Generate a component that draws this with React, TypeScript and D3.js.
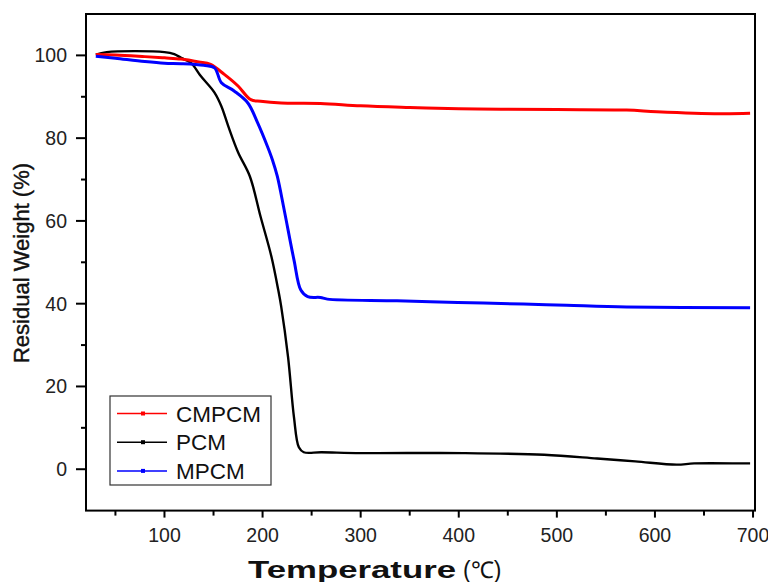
import React from "react";
import * as d3 from "d3";

const CMPCM_T = [30, 50, 80, 100, 117, 135, 147, 161, 175, 188, 198, 219, 259, 300, 350, 400, 443, 500, 571, 602, 666, 697];
const CMPCM_W = [100.2, 100.1, 99.7, 99.4, 99.1, 98.4, 97.8, 95.4, 92.6, 89.3, 88.9, 88.5, 88.4, 87.8, 87.4, 87.1, 87.0, 86.9, 86.8, 86.4, 85.9, 86.0];

const PCM_T = [30, 41, 100, 110, 117, 127, 137, 151, 158, 165, 175, 187, 198, 209, 216, 219, 226, 232, 237, 242, 260, 300, 405, 487, 541, 580, 622, 640, 690, 697];
const PCM_W = [100.2, 100.8, 100.8, 100.3, 99.4, 98.2, 95.0, 91.0, 87.7, 82.9, 76.6, 70.8, 61.0, 51.4, 43.3, 39.3, 27.1, 12.6, 5.3, 4.1, 4.1, 3.9, 3.9, 3.5, 2.6, 1.9, 1.1, 1.4, 1.4, 1.4];

const MPCM_T = [30, 50, 80, 100, 117, 140, 151, 158, 171, 185, 195, 205, 210, 215, 222, 232, 239, 246, 259, 266, 337, 399, 466, 510, 571, 697];
const MPCM_W = [99.8, 99.3, 98.5, 98.1, 98.0, 97.6, 97.0, 93.4, 91.4, 88.5, 83.7, 78.0, 74.8, 70.8, 62.7, 50.6, 43.3, 41.7, 41.5, 41.1, 40.7, 40.3, 39.9, 39.6, 39.2, 39.0];

const X_TICKS = [100, 200, 300, 400, 500, 600, 700];
const X_MINOR = [50, 150, 250, 350, 450, 550, 650];
const Y_TICKS = [0, 20, 40, 60, 80, 100];
const Y_MINOR = [10, 30, 50, 70, 90];

const SERIES = [
  { name: "PCM", t: PCM_T, w: PCM_W, color: "#000000", width: 2.4 },
  { name: "CMPCM", t: CMPCM_T, w: CMPCM_W, color: "#ff0000", width: 3 },
  { name: "MPCM", t: MPCM_T, w: MPCM_W, color: "#0000ff", width: 3 },
];
const LEGEND = ["CMPCM", "PCM", "MPCM"];
const LEGEND_COLORS = ["#ff0000", "#000000", "#0000ff"];

export default function App() {
  const W = 768, H = 582;
  const left = 86, right = 755, top = 14, bottom = 510.6;
  const x = d3.scaleLinear().domain([20, 702]).range([left, right]);
  const y = d3.scaleLinear().domain([-10, 110]).range([bottom, top]);
  const font = "'Liberation Sans', Arial, sans-serif";

  const line = d3.line<[number, number]>().x((d) => x(d[0])).y((d) => y(d[1])).curve(d3.curveCatmullRom.alpha(0.5));

  return (
    <svg width={W} height={H} style={{ position: "absolute", left: 0, top: 0, background: "#fff" }} fontFamily={font}>
      <rect x={0} y={0} width={W} height={H} fill="#fff" />
      <defs>
        <clipPath id="plot">
          <rect x={left} y={top} width={right - left} height={bottom - top} />
        </clipPath>
      </defs>
      <g clipPath="url(#plot)">
        {SERIES.map((s) => (
          <path
            key={s.name}
            d={line(s.t.map((t, i) => [t, s.w[i]] as [number, number])) || ""}
            fill="none"
            stroke={s.color}
            strokeWidth={s.width}
            strokeLinejoin="round"
          />
        ))}
      </g>
      <rect x={left} y={top} width={right - left} height={bottom - top} fill="none" stroke="#000" strokeWidth={2} />
      {X_TICKS.map((t) => (
        <g key={"xt" + t}>
          <line x1={x(t)} x2={x(t)} y1={bottom} y2={bottom + 7} stroke="#000" strokeWidth={2} />
          <text x={x(t)} y={542} textAnchor="middle" fontSize={19.5} fill="#222">{t}</text>
        </g>
      ))}
      {X_MINOR.map((t) => (
        <line key={"xm" + t} x1={x(t)} x2={x(t)} y1={bottom} y2={bottom + 5} stroke="#000" strokeWidth={2} />
      ))}
      {Y_TICKS.map((t) => (
        <g key={"yt" + t}>
          <line x1={left - 10} x2={left} y1={y(t)} y2={y(t)} stroke="#000" strokeWidth={2} />
          <text x={67} y={y(t) + 7} textAnchor="end" fontSize={19.5} fill="#222">{t}</text>
        </g>
      ))}
      {Y_MINOR.map((t) => (
        <line key={"ym" + t} x1={left - 5} x2={left} y1={y(t)} y2={y(t)} stroke="#000" strokeWidth={2} />
      ))}
      <text transform={`translate(29,263) rotate(-90)`} textAnchor="middle" fontSize={22} fill="#111" stroke="#111" strokeWidth={0.4}>
        Residual Weight (%)
      </text>
      <text x={248} y={578} fontSize={23} fill="#111" fontWeight="bold" textLength={208} lengthAdjust="spacingAndGlyphs">
        Temperature
      </text>
      <text x={463} y={578} fontSize={23} fill="#111">(℃)</text>
      <rect x={110} y={396} width={161} height={89} fill="#fff" stroke="#333" strokeWidth={1.2} />
      {LEGEND.map((n, i) => (
        <g key={n}>
          <line x1={117} x2={167} y1={413.5 + i * 28.7} y2={413.5 + i * 28.7} stroke={LEGEND_COLORS[i]} strokeWidth={1.5} />
          <rect x={141} y={411.5 + i * 28.7} width={4} height={4} fill={LEGEND_COLORS[i]} />
          <text x={176} y={421.5 + i * 28.7} fontSize={22.5} fill="#111">{n}</text>
        </g>
      ))}
    </svg>
  );
}
